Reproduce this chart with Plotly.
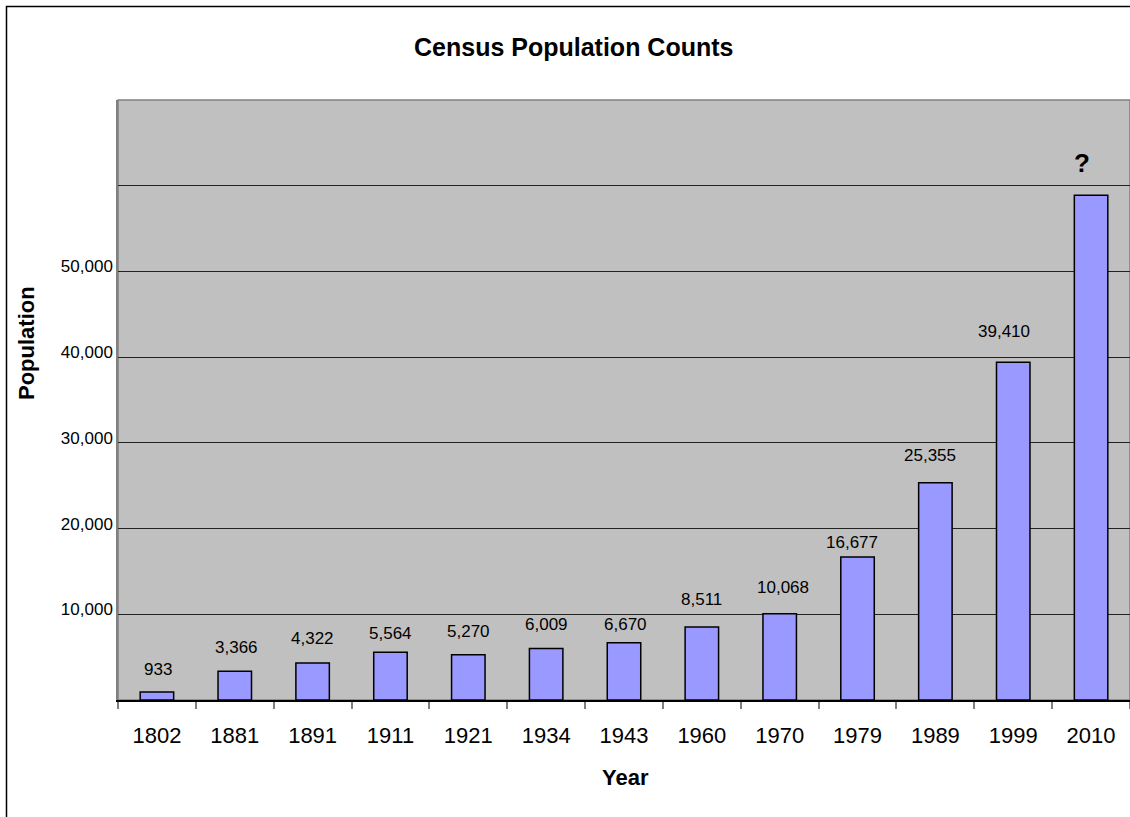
import plotly.graph_objects as go

years = ["1802", "1881", "1891", "1911", "1921", "1934", "1943", "1960", "1970", "1979", "1989", "1999", "2010"]
population = [933, 3366, 4322, 5564, 5270, 6009, 6670, 8511, 10068, 16677, 25355, 39410, 58900]
value_labels = ["933", "3,366", "4,322", "5,564", "5,270", "6,009", "6,670", "8,511", "10,068", "16,677", "25,355", "39,410", "?"]
y_tickvals = [0, 10000, 20000, 30000, 40000, 50000, 60000]
y_ticktext = ["", "10,000", "20,000", "30,000", "40,000", "50,000", ""]

# label placement (pixels above bar top, horizontal nudge) as in the original hand-placed labels
label_yshift = [23, 24, 24, 19, 23, 24, 18, 28, 26, 15, 27, 31, 32]
label_xshift = [1, 2, 0, 0, 0, 0, 1, 0, 3, -6, -5, -9, -9]

W, H = 1130, 817
ML, MR, MT, MB = 118, 0, 100, 117
PW, PH = W - ML - MR, H - MT - MB
FONT = "Arial, Liberation Sans, sans-serif"


def px_x(px):
    return (px - ML) / PW


def px_y(py):
    return (H - MB - py) / PH


fig = go.Figure()
fig.add_trace(go.Bar(
    x=years, y=population,
    marker=dict(color="#9999FF", line=dict(color="#000000", width=1.5)),
    hoverinfo="skip",
))

annotations = []
for i, (v, lab) in enumerate(zip(population, value_labels)):
    if lab == "?":
        annotations.append(dict(x=i, y=v, text="<b>?</b>", showarrow=False,
                                xref="x", yref="y", yanchor="middle",
                                yshift=label_yshift[i], xshift=label_xshift[i],
                                font=dict(family=FONT, size=26, color="#000")))
    else:
        annotations.append(dict(x=i, y=v, text=lab, showarrow=False,
                                xref="x", yref="y", yanchor="middle",
                                yshift=label_yshift[i], xshift=label_xshift[i],
                                font=dict(family=FONT, size=17, color="#000")))

annotations.append(dict(x=px_x(573), y=px_y(46.5), xref="paper", yref="paper",
                        text="<b>Census Population Counts</b>", showarrow=False,
                        xanchor="center", yanchor="middle",
                        font=dict(family=FONT, size=25, color="#000")))
annotations.append(dict(x=px_x(625), y=px_y(777), xref="paper", yref="paper",
                        text="<b>Year</b>", showarrow=False,
                        xanchor="center", yanchor="middle",
                        font=dict(family=FONT, size=22, color="#000")))
annotations.append(dict(x=px_x(26), y=px_y(343), xref="paper", yref="paper",
                        text="<b>Population</b>", showarrow=False, textangle=-90,
                        xanchor="center", yanchor="middle",
                        font=dict(family=FONT, size=22, color="#000")))

shapes = [
    # outer chart frame
    dict(type="rect", xref="paper", yref="paper",
         x0=px_x(6.5), x1=px_x(1200), y0=px_y(900), y1=px_y(6.5),
         line=dict(color="#000", width=1.5), fillcolor="rgba(0,0,0,0)", layer="below"),
    # plot area border
    dict(type="rect", xref="paper", yref="paper", x0=0, x1=1, y0=0, y1=1,
         line=dict(color="#808080", width=1.5), fillcolor="rgba(0,0,0,0)", layer="below"),
]

fig.update_layout(
    width=W, height=H,
    margin=dict(l=ML, r=MR, t=MT, b=MB, pad=0),
    paper_bgcolor="#FFFFFF",
    plot_bgcolor="#C0C0C0",
    bargap=0.57,
    showlegend=False,
    font=dict(family=FONT, color="#000"),
    annotations=annotations,
    shapes=shapes,
    xaxis=dict(
        type="category",
        range=[-0.5, len(years) - 0.5],
        autorange=False,
        showline=True, linecolor="#000", linewidth=1.5,
        ticks="outside", tickson="boundaries", ticklen=7, tickcolor="#808080", tickwidth=1.5,
        tickfont=dict(family=FONT, size=22, color="#000"),
        tickangle=0,
        ticklabelstandoff=15,
        showgrid=False, zeroline=False,
    ),
    yaxis=dict(
        range=[0, 70000],
        tickvals=y_tickvals, ticktext=y_ticktext,
        showgrid=True, gridcolor="#222", gridwidth=1,
        zeroline=False,
        showline=True, linecolor="#808080", linewidth=1.5,
        ticks="",
        tickfont=dict(family=FONT, size=17, color="#000"),
        ticklabelstandoff=0,
        ticklabelshift=-5,
    ),
)

fig.write_html("out.html")
